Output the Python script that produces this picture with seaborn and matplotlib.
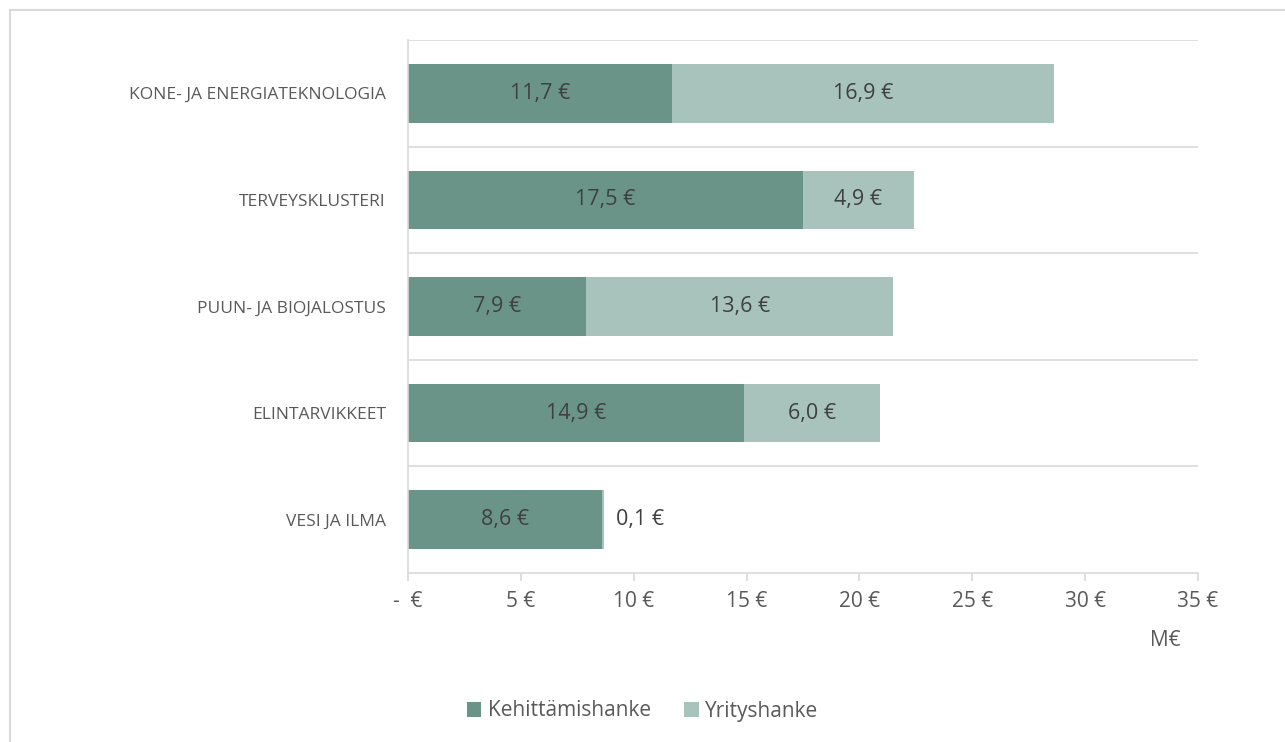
import matplotlib
matplotlib.use("Agg")
import matplotlib.pyplot as plt
import seaborn as sns
import pandas as pd
from matplotlib.patches import Patch, Rectangle

categories = ["KONE- JA ENERGIATEKNOLOGIA", "TERVEYSKLUSTERI", "PUUN- JA BIOJALOSTUS",
              "ELINTARVIKKEET", "VESI JA ILMA"]
kehittamishanke = [11.7, 17.5, 7.9, 14.9, 8.6]
yrityshanke = [16.9, 4.9, 13.6, 6.0, 0.1]
series_names = ["Kehittämishanke", "Yrityshanke"]
xticks = [0, 5, 10, 15, 20, 25, 30, 35]
xticklabels = ["-  €", "5 €", "10 €", "15 €", "20 €", "25 €", "30 €", "35 €"]
unit_label = "M€"

dark = "#6b9489"
light = "#a8c3bb"
grid_c = "#d9d9d9"
txt = "#595959"
val_c = "#404040"

sns.set_theme(style="white")
plt.rcParams["font.family"] = ["Open Sans", "DejaVu Sans"]

df = pd.DataFrame({"cat": categories, "k": kehittamishanke, "y": yrityshanke})
df["total"] = df["k"] + df["y"]

fig = plt.figure(figsize=(12.85, 7.42), dpi=100)
ax = fig.add_axes([408 / 1285, 1 - 573 / 742, 790 / 1285, 533 / 742])

sns.barplot(data=df, x="total", y="cat", color=light, saturation=1, width=0.55,
            orient="h", ax=ax, linewidth=0)
sns.barplot(data=df, x="k", y="cat", color=dark, saturation=1, width=0.55,
            orient="h", ax=ax, linewidth=0)

ax.set_xlim(0, 35)
ax.set_ylim(len(categories) - 0.5, -0.5)
ax.set_xlabel("")
ax.set_ylabel("")

# gridlines between categories
for b in range(len(categories)):
    ax.axhline(b - 0.5, color=grid_c, lw=1.2, zorder=0)

for s in ["top", "right"]:
    ax.spines[s].set_visible(False)
for s in ["left", "bottom"]:
    ax.spines[s].set_color(grid_c)
    ax.spines[s].set_linewidth(1.2)

ax.set_xticks(xticks)
ax.set_xticklabels(xticklabels, fontsize=15, color=txt)
ax.tick_params(axis="x", length=6, width=1.2, color=grid_c, direction="out", pad=7,
               bottom=True)
ax.tick_params(axis="y", length=0, pad=16)
ax.set_yticks(range(len(categories)))
ax.set_yticklabels(categories, fontsize=12.5, color=txt)

# value labels
for i, (k, y) in enumerate(zip(kehittamishanke, yrityshanke)):
    ax.text(k / 2, i, f"{k:.1f} €".replace(".", ","), ha="center", va="center",
            fontsize=15.5, color=val_c)
    if y >= 1:
        ax.text(k + y / 2, i, f"{y:.1f} €".replace(".", ","), ha="center", va="center",
                fontsize=15.5, color=val_c)
    else:
        ax.text(k + y + 0.5, i, f"{y:.1f} €".replace(".", ","), ha="left", va="center",
                fontsize=15.5, color=val_c)

fig.text(1165 / 1285, 1 - 640 / 742, unit_label, ha="center", va="center",
         fontsize=15, color=txt)

handles = [Patch(facecolor=dark, edgecolor="none"), Patch(facecolor=light, edgecolor="none")]
fig.legend(handles, series_names, loc="center", bbox_to_anchor=(0.5, 1 - 711 / 742),
           ncol=2, frameon=False, fontsize=15, labelcolor=txt, handlelength=0.7,
           handleheight=0.7, handletextpad=0.3, columnspacing=1.6)

# outer border
fig.patches.append(Rectangle((10 / 1285, -0.05), 1.2, 1 - 10 / 742 + 0.05,
                             transform=fig.transFigure, fill=False,
                             edgecolor=grid_c, lw=1.5, zorder=-1))

fig.savefig("out.png", dpi=100, facecolor="white")
